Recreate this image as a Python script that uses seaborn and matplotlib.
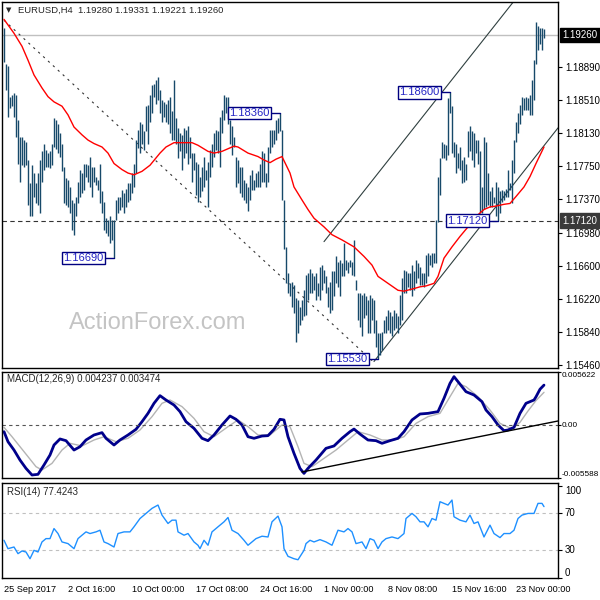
import seaborn as sns
import matplotlib.pyplot as plt
from matplotlib import transforms

sns.set_style('white')
plt.rcParams['font.family'] = ['Liberation Sans', 'DejaVu Sans']

# EURUSD H4 bars (one high / low per 4h bar)
highs = [
    1.1934, 1.1893, 1.1890, 1.1855, 1.1857, 1.1859, 1.1857, 1.1828, 1.1809, 1.1809,
    1.1805, 1.1803, 1.1782, 1.1755, 1.1776, 1.1767, 1.1755, 1.1767, 1.1782, 1.1792,
    1.1801, 1.1794, 1.1790, 1.1792, 1.1801, 1.1830, 1.1828, 1.1824, 1.1813, 1.1801,
    1.1774, 1.1761, 1.1759, 1.1751, 1.1736, 1.1732, 1.1740, 1.1757, 1.1771, 1.1767,
    1.1778, 1.1778, 1.1776, 1.1786, 1.1774, 1.1774, 1.1763, 1.1759, 1.1778, 1.1746,
    1.1734, 1.1715, 1.1713, 1.1717, 1.1713, 1.1713, 1.1736, 1.1740, 1.1740, 1.1748,
    1.1744, 1.1749, 1.1755, 1.1755, 1.1767, 1.1778, 1.1805, 1.1817, 1.1826, 1.1824,
    1.1815, 1.1844, 1.1845, 1.1857, 1.1868, 1.1870, 1.1874, 1.1878, 1.1863, 1.1851,
    1.1849, 1.1847, 1.1851, 1.1855, 1.1838, 1.1874, 1.1830, 1.1819, 1.1813, 1.1811,
    1.1819, 1.1817, 1.1821, 1.1809, 1.1790, 1.1790, 1.1780, 1.1778, 1.1763, 1.1774,
    1.1786, 1.1771, 1.1780, 1.1794, 1.1801, 1.1813, 1.1817, 1.1815, 1.1832, 1.1840,
    1.1857, 1.1855, 1.1855, 1.1828, 1.1821, 1.1809, 1.1786, 1.1782, 1.1774, 1.1774,
    1.1759, 1.1755, 1.1751, 1.1765, 1.1771, 1.1759, 1.1767, 1.1769, 1.1778, 1.1792,
    1.1790, 1.1767, 1.1797, 1.1817, 1.1817, 1.1817, 1.1828, 1.1830, 1.1836, 1.1817,
    1.1736, 1.1682, 1.1652, 1.1640, 1.1642, 1.1638, 1.1623, 1.1621, 1.1613, 1.1621,
    1.1632, 1.1650, 1.1652, 1.1657, 1.1652, 1.1648, 1.1652, 1.1640, 1.1659, 1.1661,
    1.1655, 1.1648, 1.1636, 1.1642, 1.1654, 1.1654, 1.1671, 1.1665, 1.1667, 1.1663,
    1.1686, 1.1667, 1.1665, 1.1667, 1.1665, 1.1690, 1.1644, 1.1629, 1.1629, 1.1627,
    1.1629, 1.1625, 1.1621, 1.1627, 1.1623, 1.1621, 1.1598, 1.1583, 1.1583, 1.1584,
    1.1598, 1.1602, 1.1609, 1.1607, 1.1602, 1.1609, 1.1606, 1.1602, 1.1627, 1.1646,
    1.1655, 1.1654, 1.1652, 1.1652, 1.1661, 1.1654, 1.1667, 1.1663, 1.1659, 1.1652,
    1.1652, 1.1673, 1.1675, 1.1673, 1.1675, 1.1675, 1.1713, 1.1763, 1.1784, 1.1803,
    1.1801, 1.1799, 1.1853, 1.1860, 1.1844, 1.1803, 1.1801, 1.1790, 1.1797, 1.1782,
    1.1786, 1.1778, 1.1815, 1.1821, 1.1815, 1.1813, 1.1805, 1.1805, 1.1792, 1.1751,
    1.1809, 1.1803, 1.1767, 1.1746, 1.1751, 1.1740, 1.1757, 1.1751, 1.1746, 1.1748,
    1.1746, 1.1749, 1.1771, 1.1755, 1.1782, 1.1805, 1.1826, 1.1836, 1.1845, 1.1855,
    1.1853, 1.1855, 1.1853, 1.1857, 1.1874, 1.1897, 1.1941, 1.1936, 1.1934, 1.1934,
    1.19331,
]
lows = [
    1.1895, 1.1863, 1.1832, 1.1842, 1.1844, 1.1832, 1.1809, 1.1778, 1.1757, 1.1776,
    1.1774, 1.1776, 1.1730, 1.1717, 1.1717, 1.1740, 1.1732, 1.1730, 1.1721, 1.1757,
    1.1771, 1.1774, 1.1774, 1.1773, 1.1776, 1.1797, 1.1795, 1.1790, 1.1786, 1.1769,
    1.1732, 1.1730, 1.1728, 1.1721, 1.1702, 1.1696, 1.1717, 1.1732, 1.1740, 1.1744,
    1.1748, 1.1763, 1.1757, 1.1751, 1.1740, 1.1757, 1.1753, 1.1748, 1.1732, 1.1721,
    1.1702, 1.1698, 1.1694, 1.1686, 1.1690, 1.1669, 1.1713, 1.1721, 1.1725, 1.1728,
    1.1721, 1.1728, 1.1734, 1.1736, 1.1744, 1.1751, 1.1767, 1.1796, 1.1790, 1.1801,
    1.1794, 1.1815, 1.1801, 1.1826, 1.1836, 1.1855, 1.1847, 1.1851, 1.1836, 1.1826,
    1.1832, 1.1826, 1.1824, 1.1813, 1.1805, 1.1805, 1.1801, 1.1784, 1.1792, 1.1771,
    1.1784, 1.1790, 1.1778, 1.1784, 1.1757, 1.1771, 1.1742, 1.1734, 1.1740, 1.1746,
    1.1751, 1.1759, 1.1728, 1.1763, 1.1774, 1.1786, 1.1794, 1.1790, 1.1774, 1.1813,
    1.1828, 1.1836, 1.1824, 1.1801, 1.1788, 1.1797, 1.1751, 1.1755, 1.1744, 1.1740,
    1.1736, 1.1732, 1.1723, 1.1736, 1.1748, 1.1748, 1.1751, 1.1751, 1.1751, 1.1757,
    1.1757, 1.1751, 1.1757, 1.1790, 1.1797, 1.1801, 1.1805, 1.1813, 1.1815, 1.1736,
    1.1679, 1.1640, 1.1629, 1.1625, 1.1613, 1.1606, 1.1573, 1.1583, 1.1592, 1.1598,
    1.1602, 1.1604, 1.1621, 1.1629, 1.1629, 1.1632, 1.1621, 1.1625, 1.1621, 1.1632,
    1.1640, 1.1629, 1.1613, 1.1606, 1.1609, 1.1625, 1.1640, 1.1636, 1.1625, 1.1648,
    1.1648, 1.1655, 1.1652, 1.1659, 1.1650, 1.1648, 1.1632, 1.1598, 1.1590, 1.1579,
    1.1600, 1.1604, 1.1583, 1.1583, 1.1598, 1.1583, 1.1567, 1.1553, 1.1558, 1.1563,
    1.1583, 1.1583, 1.1586, 1.1583, 1.1579, 1.1586, 1.1588, 1.1583, 1.1592, 1.1598,
    1.1629, 1.1629, 1.1636, 1.1632, 1.1625, 1.1632, 1.1640, 1.1646, 1.1638, 1.1638,
    1.1636, 1.1640, 1.1648, 1.1661, 1.1659, 1.1663, 1.1663, 1.1711, 1.1742, 1.1784,
    1.1784, 1.1782, 1.1788, 1.1836, 1.1790, 1.1786, 1.1767, 1.1773, 1.1771, 1.1755,
    1.1757, 1.1759, 1.1786, 1.1792, 1.1782, 1.1774, 1.1790, 1.1778, 1.1721, 1.1721,
    1.1726, 1.1728, 1.1730, 1.1728, 1.1728, 1.1732, 1.1717, 1.1712, 1.1721, 1.1734,
    1.1736, 1.1740, 1.1740, 1.1748, 1.1732, 1.1767, 1.1803, 1.1813, 1.1824, 1.1834,
    1.1840, 1.1840, 1.1840, 1.1834, 1.1834, 1.1851, 1.1893, 1.1909, 1.1916, 1.1909,
    1.19221,
]

# red moving average
ma_idx = [0, 5, 9, 12, 15, 19, 22, 25, 29, 32, 35, 39, 42, 45, 49, 52, 55, 59, 62, 65,
          69, 73, 78, 81, 85, 94, 97, 102, 105, 109, 115, 117, 122, 127, 130, 133, 136, 139,
          143, 145, 149, 152, 155, 160, 164, 169, 175, 180, 184, 187, 192, 197, 200, 205,
          208, 211, 215, 217, 220, 224, 228, 232, 236, 240, 243, 246, 250, 253, 256, 260,
          263, 266, 270]
ma_val = [1.1944, 1.1928, 1.1913, 1.1897, 1.1880, 1.1865, 1.1855, 1.1849, 1.1844, 1.1834,
          1.1820, 1.1811, 1.1805, 1.1801, 1.1797, 1.1790, 1.1778, 1.1771, 1.1767, 1.1765,
          1.1769, 1.1776, 1.1790, 1.1797, 1.1802, 1.1802, 1.1799, 1.1792, 1.1790, 1.1792,
          1.1798, 1.1797, 1.1790, 1.1786, 1.1782, 1.1779, 1.1783, 1.1786, 1.1767, 1.1751,
          1.1736, 1.1725, 1.1715, 1.1705, 1.1696, 1.1690, 1.1682, 1.1671, 1.1661, 1.1648,
          1.1640, 1.1632, 1.1631, 1.1634, 1.1636, 1.1637, 1.1640, 1.1648, 1.1669, 1.1682,
          1.1694, 1.1705, 1.1717, 1.1725, 1.1728, 1.1729, 1.1731, 1.1732, 1.1740, 1.1751,
          1.1763, 1.1778, 1.1797]

# MACD(12,26,9): main line and signal
macd_idx = [0, 2, 5, 8, 11, 14, 17, 20, 23, 25, 28, 31, 35, 38, 41, 45, 49, 51, 55, 58,
            62, 66, 69, 72, 75, 78, 81, 85, 88, 91, 95, 99, 102, 105, 109, 113, 116, 119,
            122, 125, 129, 132, 135, 138, 140, 142, 145, 148, 150, 152, 156, 161, 165, 169,
            173, 175, 178, 182, 186, 189, 193, 197, 200, 204, 208, 212, 217, 220, 223, 225,
            227, 231, 235, 239, 241, 244, 247, 250, 252, 255, 258, 261, 265, 266, 268, 270]
macd_val = [-0.00069, -0.00175, -0.00263, -0.00369, -0.00457, -0.00527, -0.00520, -0.00421,
            -0.00316, -0.00210, -0.00146, -0.00164, -0.00263, -0.00228, -0.00157, -0.00104,
            -0.00079, -0.00139, -0.00210, -0.00157, -0.00104, -0.00044, 0.00037, 0.00125,
            0.00231, 0.00312, 0.00266, 0.00213, 0.00143, 0.00037, -0.00034, -0.00139,
            -0.00164, -0.00104, 0.00002, 0.00097, 0.00062, 0.00002, -0.00122, -0.00139,
            -0.00115, -0.00111, -0.00044, 0.00062, 0.00055, -0.00122, -0.00298, -0.00457,
            -0.00510, -0.00457, -0.00369, -0.00245, -0.00220, -0.00139, -0.00069, -0.00041,
            -0.00094, -0.00157, -0.00164, -0.00192, -0.00164, -0.00139, -0.00069, 0.00055,
            0.00118, 0.00125, 0.00143, 0.00284, 0.00442, 0.00513, 0.00460, 0.00354, 0.00319,
            0.00248, 0.00160, 0.00090, 0.00002, -0.00058, -0.00051, -0.00023, 0.00125,
            0.00231, 0.00266, 0.00300, 0.00380, 0.004237]
signal_idx = [0, 4, 10, 16, 19, 24, 29, 33, 39, 45, 50, 56, 62, 68, 74, 79, 83, 89, 95,
              100, 105, 112, 117, 122, 127, 133, 139, 143, 147, 150, 154, 160, 166, 172,
              177, 183, 189, 195, 200, 206, 212, 218, 222, 227, 231, 237, 243, 248, 254,
              258, 262, 266, 270]
signal_val = [-0.00023, -0.00122, -0.00280, -0.00439, -0.00474, -0.00404, -0.00263,
              -0.00192, -0.00220, -0.00157, -0.00122, -0.00175, -0.00139, -0.00051, 0.00090,
              0.00231, 0.00266, 0.00196, 0.00072, -0.00069, -0.00122, -0.00016, 0.00055,
              -0.00016, -0.00104, -0.00104, 0.00002, -0.00016, -0.00228, -0.00404, -0.00439,
              -0.00351, -0.00263, -0.00157, -0.00069, -0.00104, -0.00157, -0.00157, -0.00122,
              0.00019, 0.00090, 0.00125, 0.00266, 0.00442, 0.00407, 0.00301, 0.00160, 0.00019,
              -0.00040, 0.00030, 0.00150, 0.00260, 0.003474]

# RSI(14)
rsi_idx = [0, 2, 5, 7, 9, 11, 13, 15, 17, 19, 21, 23, 25, 27, 29, 32, 35, 37, 39, 41, 43,
           46, 48, 50, 52, 55, 57, 60, 63, 65, 68, 71, 74, 77, 79, 82, 84, 86, 87, 90, 92,
           95, 97, 98, 100, 102, 104, 107, 110, 112, 114, 117, 120, 122, 124, 126, 129, 132,
           134, 137, 139, 140, 142, 145, 147, 150, 151, 153, 155, 158, 161, 164, 167, 170,
           172, 174, 176, 179, 181, 183, 185, 187, 189, 191, 194, 197, 200, 201, 204, 206,
           208, 210, 212, 214, 216, 218, 220, 222, 224, 225, 228, 231, 233, 235, 237, 239,
           240, 243, 245, 248, 250, 253, 255, 257, 259, 262, 265, 267, 269, 270]
rsi_val = [40.9, 31.8, 33.6, 26.4, 29.3, 28.2, 20.9, 30.0, 28.2, 39.1, 42.7, 42.7, 53.6,
           48.2, 39.1, 37.3, 31.8, 42.7, 46.4, 50.0, 48.2, 50.0, 51.8, 39.1, 37.3, 33.6, 48.2,
           50.0, 50.0, 55.5, 64.5, 70.0, 75.5, 79.1, 68.2, 59.1, 62.7, 62.7, 50.0, 46.4, 48.2,
           39.1, 35.5, 31.8, 40.9, 35.5, 50.0, 55.5, 60.9, 65.6, 51.8, 48.2, 40.9, 35.5, 39.1,
           42.7, 45.3, 44.5, 60.9, 67.1, 55.5, 31.8, 23.5, 20.9, 19.8, 30.0, 37.3, 40.9, 39.1,
           41.6, 39.1, 35.5, 51.8, 50.0, 53.6, 50.0, 37.3, 39.1, 31.8, 42.7, 40.9, 31.8, 39.1,
           42.7, 44.5, 42.7, 48.2, 64.5, 70.0, 66.4, 60.9, 60.9, 55.5, 64.5, 62.7, 82.7, 80.9,
           79.1, 84.5, 66.4, 62.7, 60.9, 68.2, 59.1, 60.9, 50.0, 44.5, 57.3, 48.2, 43.8, 48.2,
           48.2, 51.8, 64.5, 68.2, 70.0, 70.0, 80.9, 80.9, 77.4]

# drawn objects (bar index, price)
down_line = ([0, 184], [1.1943, 1.1551])
chan_upper = ([160, 256], [1.1688, 1.1968])
chan_lower = ([185, 277], [1.1550, 1.1819])
macd_trend = ([149, 277], [-0.00495, 0.00044])
swing_idx = [55, 138, 187, 223, 247]
swing_price = [1.16690, 1.18360, 1.15530, 1.18600, 1.17120]
last_price = 1.19260
support = 1.17120

price_ticks = [1.15460, 1.15840, 1.16220, 1.16600, 1.16980, 1.17370, 1.17750, 1.18130,
               1.18510, 1.18890]
time_pos = [0, 32, 64, 96, 128, 160, 192, 224, 256]
time_labels = ['25 Sep 2017', '2 Oct 16:00', '10 Oct 00:00', '17 Oct 08:00', '24 Oct 16:00',
               '1 Nov 00:00', '8 Nov 08:00', '15 Nov 16:00', '23 Nov 00:00']

bar_color = '#17496a'
fig = plt.figure(figsize=(6, 6), dpi=100)


def px_box(x0, y0, x1, y1):
    return [x0 / 600, 1 - y1 / 600, (x1 - x0) / 600, (y1 - y0) / 600]


ax = fig.add_axes(px_box(2, 2, 558, 368))
ax_macd = fig.add_axes(px_box(2, 372, 558, 478))
ax_rsi = fig.add_axes(px_box(2, 483, 558, 578))

for a in (ax, ax_macd, ax_rsi):
    a.set_xlim(-1, 277)
    a.yaxis.tick_right()
    a.tick_params(axis='both', direction='out', length=3, width=0.8, pad=2,
                  labelsize=7, colors='black')
    for s in a.spines.values():
        s.set_color('black')
        s.set_linewidth(1)

# ---- price panel ----
idx = list(range(len(highs)))
ax.vlines(idx, lows, highs, color=bar_color, lw=1.0, zorder=3)
sns.lineplot(x=ma_idx, y=ma_val, ax=ax, color='red', lw=1, zorder=4)
ax.axhline(last_price, color='#c0c0c0', lw=1, zorder=1)
ax.axhline(support, color='#333333', lw=0.8, ls=(0, (4, 3)), zorder=2)
ax.plot(*down_line, color='#333333', lw=0.8, ls=(0, (2, 4)), zorder=2)
ax.plot(*chan_upper, color='#2f3f3f', lw=0.8, zorder=2)
ax.plot(*chan_lower, color='#2f3f3f', lw=0.8, zorder=2)

for i, p in zip(swing_idx, swing_price):
    ax.plot([i - 10, i], [p, p], color='#000080', lw=1, zorder=5)
    ax.text(i - 15.25, p, f'{p:.5f}', ha='center', va='center', fontsize=8,
            color='#2424c4', zorder=6,
            bbox=dict(boxstyle='square,pad=0.12', fc='white', ec='#000080', lw=1))

ax.set_ylim(1.15425, 1.19640)
ax.set_yticks(price_ticks)
ax.set_yticklabels([f'{p:.5f}' for p in price_ticks])
ax.set_xticks([])
trans = transforms.blended_transform_factory(ax.transAxes, ax.transData)
ax.text(1.008, last_price, f'{last_price:.5f}', transform=trans, ha='left', va='center',
        fontsize=7, color='white',
        bbox=dict(boxstyle='square,pad=0.25', fc='black', ec='black'))
ax.text(1.008, support, f'{support:.5f}', transform=trans, ha='left', va='center',
        fontsize=7, color='white',
        bbox=dict(boxstyle='square,pad=0.25', fc='#3a3a3a', ec='#3a3a3a'))
ax.text(0.28, 0.122, 'ActionForex.com', transform=ax.transAxes, fontsize=17,
        color='#c4c4c4', ha='center', va='center', zorder=0)

fig.text(6 / 600, 1 - 10 / 600, '\u25bc', fontsize=5, va='center',
         family=['DejaVu Sans'])
fig.text(18 / 600, 1 - 10 / 600, 'EURUSD,H4  1.19280 1.19331 1.19221 1.19260',
         fontsize=6.8, va='center')

# ---- MACD panel ----
sns.lineplot(x=signal_idx, y=signal_val, ax=ax_macd, color='#b4b4b4', lw=1)
sns.lineplot(x=macd_idx, y=macd_val, ax=ax_macd, color='#00008b', lw=2)
ax_macd.axhline(0, color='#555555', lw=0.8, ls=(0, (3, 3)))
ax_macd.plot(*macd_trend, color='black', lw=1)
ax_macd.set_ylim(-0.005588, 0.005622)
ax_macd.set_yticks([-0.005588, 0, 0.005622])
ax_macd.set_yticklabels(['-0.005588', '0.00', '0.005622'])
ax_macd.tick_params(axis='y', labelsize=5.9, pad=0.5, length=2)
for lab, va in zip(ax_macd.get_yticklabels(), ['bottom', 'center', 'top']):
    lab.set_verticalalignment(va)
ax_macd.set_xticks([])
fig.text(7 / 600, 1 - 379 / 600, 'MACD(12,26,9) 0.004237 0.003474', fontsize=7, va='center')

# ---- RSI panel ----
ax_rsi.axhline(70, color='#c0c0c0', lw=0.8, ls=(0, (3, 3)))
ax_rsi.axhline(30, color='#c0c0c0', lw=0.8, ls=(0, (3, 3)))
sns.lineplot(x=rsi_idx, y=rsi_val, ax=ax_rsi, color='#1e90ff', lw=1)
ax_rsi.set_ylim(0, 103)
ax_rsi.set_yticks([0, 30, 70, 100])
ax_rsi.set_yticklabels(['0', '30', '70', '100'])
for lab, va in zip(ax_rsi.get_yticklabels(), ['bottom', 'center', 'center', 'top']):
    lab.set_verticalalignment(va)
ax_rsi.set_xticks(time_pos)
ax_rsi.set_xticklabels(time_labels, ha='left')
ax_rsi.tick_params(axis='x', labelsize=6.6)
fig.text(7 / 600, 1 - 492 / 600, 'RSI(14) 77.4243', fontsize=7, va='center')

for a in (ax, ax_macd, ax_rsi):
    a.set_xlabel('')
    a.set_ylabel('')

fig.savefig('out.png', dpi=100)
